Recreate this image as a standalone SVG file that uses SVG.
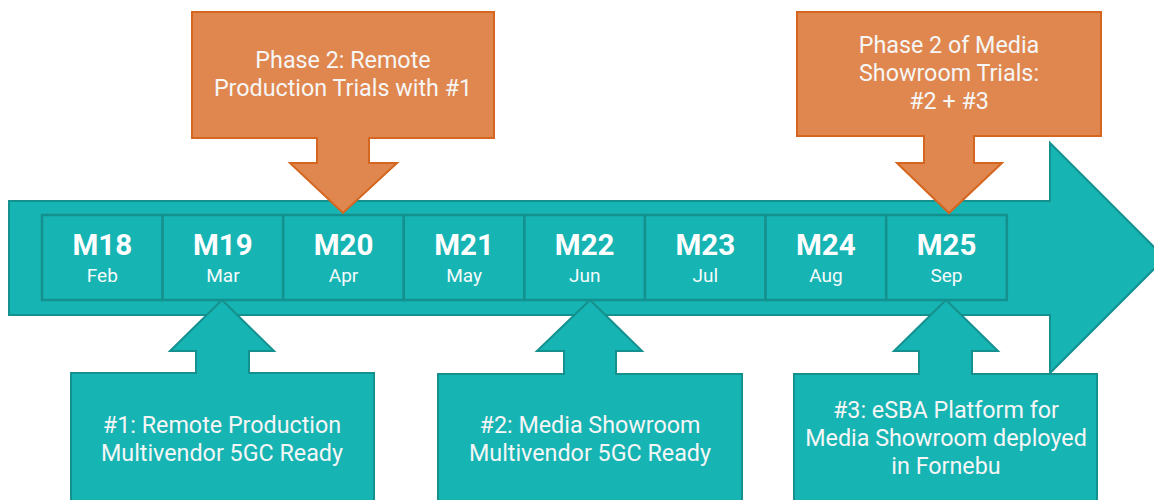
<svg xmlns="http://www.w3.org/2000/svg" width="1154" height="500" viewBox="0 0 1154 500">
  <style>
    .teal { fill: #17b4b4; stroke: #14918f; stroke-width: 2; stroke-linejoin: miter; }
    .cell { fill: #17b4b4; stroke: #14918f; stroke-width: 2.5; }
    .orange { fill: #e0874f; stroke: #d4661f; stroke-width: 2; }
    .mnum { font-family: Roboto, "Liberation Sans", sans-serif; font-weight: bold; font-size: 29.5px; fill: #ffffff; text-anchor: middle; }
    .mname { font-family: Roboto, "Liberation Sans", sans-serif; font-size: 19px; fill: #f4fbfb; text-anchor: middle; }
    .label { font-family: Roboto, "Liberation Sans", sans-serif; font-size: 23.3px; fill: #f6f6f6; text-anchor: middle; }
  </style>

  <!-- timeline arrow -->
  <g id="timeline">
    <path class="teal" d="M9,201 H1050 V143 L1165,258 L1050,373 V315 H9 Z"/>
  </g>

  <!-- month cells -->
  <g id="months">
    <g id="m18"><rect class="cell" x="42" y="215" width="120.6" height="85"/><text class="mnum" x="102.3" y="255">M18</text><text class="mname" x="102.3" y="282">Feb</text></g>
    <g id="m19"><rect class="cell" x="162.6" y="215" width="120.6" height="85"/><text class="mnum" x="222.9" y="255">M19</text><text class="mname" x="222.9" y="282">Mar</text></g>
    <g id="m20"><rect class="cell" x="283.2" y="215" width="120.6" height="85"/><text class="mnum" x="343.5" y="255">M20</text><text class="mname" x="343.5" y="282">Apr</text></g>
    <g id="m21"><rect class="cell" x="403.8" y="215" width="120.6" height="85"/><text class="mnum" x="464.1" y="255">M21</text><text class="mname" x="464.1" y="282">May</text></g>
    <g id="m22"><rect class="cell" x="524.4" y="215" width="120.6" height="85"/><text class="mnum" x="584.7" y="255">M22</text><text class="mname" x="584.7" y="282">Jun</text></g>
    <g id="m23"><rect class="cell" x="645" y="215" width="120.6" height="85"/><text class="mnum" x="705.3" y="255">M23</text><text class="mname" x="705.3" y="282">Jul</text></g>
    <g id="m24"><rect class="cell" x="765.6" y="215" width="120.6" height="85"/><text class="mnum" x="825.9" y="255">M24</text><text class="mname" x="825.9" y="282">Aug</text></g>
    <g id="m25"><rect class="cell" x="886.2" y="215" width="120.6" height="85"/><text class="mnum" x="946.5" y="255">M25</text><text class="mname" x="946.5" y="282">Sep</text></g>
  </g>

  <!-- callout pointers (box + stem + head as one outline) -->
  <g id="connectors">
    <path class="orange" d="M192,12 H494 V138 H369 V163 H397 L343,213 L290,163 H317 V138 H192 Z"/>
    <path class="orange" d="M797,12 H1101 V136 H974 V163 H1002 L949,213 L897,163 H924 V136 H797 Z"/>
    <path class="teal" d="M71,373 H196 V351 H170 L222,300 L274,351 H249 V373 H374 V503 H71 Z"/>
    <path class="teal" d="M438,374 H564 V351 H537 L590,300 L642,351 H616 V374 H742 V503 H438 Z"/>
    <path class="teal" d="M794,374 H919 V351 H894 L946,300 L998,351 H972 V374 H1097 V503 H794 Z"/>
  </g>

  <g id="phase2-remote">
    <text class="label" x="343" y="68">Phase 2: Remote</text>
    <text class="label" x="343" y="96">Production Trials with #1</text>
  </g>
  <g id="phase2-showroom">
    <text class="label" x="949" y="53">Phase 2 of Media</text>
    <text class="label" x="949" y="81">Showroom Trials:</text>
    <text class="label" x="949" y="109">#2 + #3</text>
  </g>
  <g id="milestone-1">
    <text class="label" x="222" y="433">#1: Remote Production</text>
    <text class="label" x="222" y="461">Multivendor 5GC Ready</text>
  </g>
  <g id="milestone-2">
    <text class="label" x="590" y="433">#2: Media Showroom</text>
    <text class="label" x="590" y="461">Multivendor 5GC Ready</text>
  </g>
  <g id="milestone-3">
    <text class="label" x="946" y="418">#3: eSBA Platform for</text>
    <text class="label" x="946" y="446">Media Showroom deployed</text>
    <text class="label" x="946" y="474">in Fornebu</text>
  </g>
</svg>
